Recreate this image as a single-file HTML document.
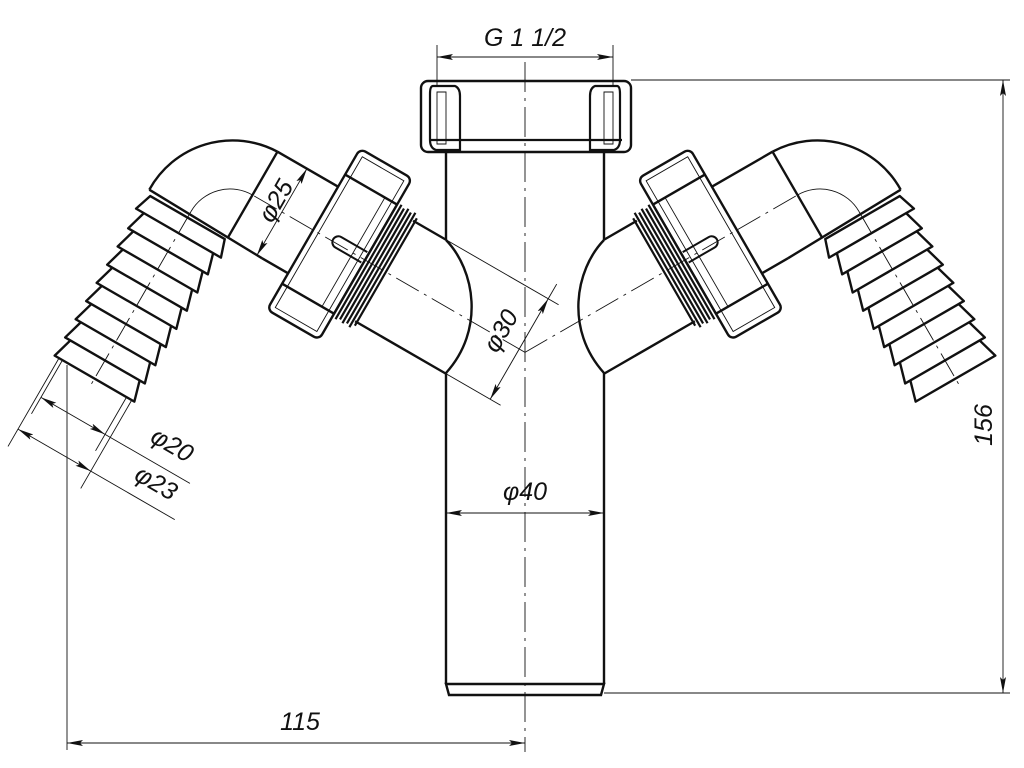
<!DOCTYPE html>
<html><head><meta charset="utf-8"><style>
html,body{margin:0;padding:0;background:#fff;}
svg{display:block;}
text{font-family:"Liberation Sans",sans-serif;font-style:italic;font-size:25px;fill:#111;}
</style></head><body>
<svg width="1024" height="768" viewBox="0 0 1024 768" xmlns="http://www.w3.org/2000/svg">
<defs>
<marker id="ar" viewBox="0 0 16 6" refX="16" refY="3" markerWidth="16" markerHeight="6" markerUnits="userSpaceOnUse" orient="auto-start-reverse"><path d="M0,0 L16,3 L0,6 L3,3 Z" fill="#111"/></marker>
<g id="branch" fill="none" stroke="#111">
  <!-- tube phi30 -->
  <line x1="30" y1="58" x2="68" y2="58" stroke-width="2.4"/>
  <line x1="-37" y1="-58" x2="68" y2="-58" stroke-width="2.4"/>
  <line x1="-95" y1="0" x2="220" y2="0" stroke-width="0.9" stroke-dasharray="26,6,3,6"/>
  <!-- thread -->
  <path d="M66,-62 L66,62 M70,-66 L70,66 M74,-64 L74,64 M78,-66 L78,66 M82,-64 L82,64 M86,-66 L86,66 M90,-62 L90,62" stroke-width="2.2"/>
  <!-- nut -->
  <rect x="90" y="-92" width="60" height="186" rx="6" stroke-width="2.4"/>
  <line x1="90" y1="64" x2="150" y2="64" stroke-width="2.4"/>
  <line x1="90" y1="-62" x2="150" y2="-62" stroke-width="2.4"/>
  <rect x="96" y="-86" width="48" height="174" stroke-width="0.9"/>
  <line x1="104" y1="-62" x2="104" y2="64" stroke-width="0.9"/>
  <path d="M92,-4 L122,-4 A6,6 0 0 1 122,8 L92,8" stroke-width="2"/>
  <!-- tube phi25 -->
  <line x1="150" y1="50" x2="220" y2="50" stroke-width="2.4"/>
  <line x1="150" y1="-50" x2="180" y2="-50" stroke-width="2.4"/>
  <line x1="220" y1="50" x2="220" y2="-50" stroke-width="2.4"/>
  <!-- elbow -->
  <path d="M220,50 A95,95 0 0 0 312,-47" stroke-width="2.4"/>
  <path d="M220,0 A45,45 0 0 0 265,-45" stroke-width="0.9"/>
  <line x1="265" y1="-45" x2="265" y2="-250" stroke-width="0.9" stroke-dasharray="26,6,3,6"/>
  <!-- barb -->
  <line x1="180" y1="-50" x2="312" y2="-47" stroke-width="2.4"/>
  <path d="M222,-52 L216,-70 L314,-70 L308,-52 Z M225,-70 L219,-91 L311,-91 L305,-70 M225,-91 L219,-112 L311,-112 L305,-91 M225,-112 L219,-133 L311,-133 L305,-112 M225,-133 L219,-154 L311,-154 L305,-133 M225,-154 L219,-175 L311,-175 L305,-154 M225,-175 L219,-196 L311,-196 L305,-175 M225,-196 L219,-217 L311,-217 L305,-196 M225,-217 L219,-238 L311,-238 L305,-217" stroke-width="2.4" stroke-linejoin="round"/>
</g>
</defs>

<!-- center line -->
<line x1="525" y1="62" x2="525" y2="752" stroke="#111" stroke-width="0.9" stroke-dasharray="30,6,3,6"/>

<!-- top nut -->
<g fill="none" stroke="#111">
<rect x="421" y="81" width="210" height="71" rx="7" stroke-width="2.4"/>
<line x1="430" y1="140" x2="622" y2="140" stroke-width="2.2"/>
<path d="M433,86 L455,86 Q460,88 460,96 L460,150 L436,150 Q430,148 430,140 L430,94 Q430,86 433,86 Z" stroke-width="2.2"/>
<path d="M437,92 L446,92 L446,144 L437,144 Z" stroke-width="0.9"/>
<path d="M617,86 L595,86 Q590,88 590,96 L590,150 L614,150 Q620,148 620,140 L620,94 Q620,86 617,86 Z" stroke-width="2.2"/>
<path d="M613,92 L604,92 L604,144 L613,144 Z" stroke-width="0.9"/>
<!-- main pipe -->
<line x1="446" y1="152" x2="446" y2="240" stroke-width="2.4"/>
<line x1="446" y1="372" x2="446" y2="684" stroke-width="2.4"/>
<line x1="604" y1="152" x2="604" y2="240" stroke-width="2.4"/>
<line x1="604" y1="372" x2="604" y2="684" stroke-width="2.4"/>
<path d="M446,684 L604,684 L601,695 L449,695 Z" stroke-width="2.4"/>
<path d="M446,240 C475,270 485,330 446,373" stroke-width="2.4"/>
<path d="M604,240 C575,270 565,330 604,373" stroke-width="2.4"/>
</g>

<!-- branches -->
<g transform="translate(443,305) rotate(210)"><use href="#branch"/></g>
<g transform="translate(1050,0) scale(-1,1)"><g transform="translate(443,305) rotate(210)"><use href="#branch"/></g></g>

<!-- dimension lines (thin) -->
<g fill="none" stroke="#111" stroke-width="0.9">
<line x1="437" y1="45" x2="437" y2="86"/>
<line x1="613" y1="45" x2="613" y2="86"/>
<line x1="437" y1="57" x2="613" y2="57" marker-start="url(#ar)" marker-end="url(#ar)"/>
<line x1="631" y1="80" x2="1010" y2="80"/>
<line x1="604" y1="693" x2="1010" y2="693"/>
<line x1="1003" y1="80" x2="1003" y2="693" marker-start="url(#ar)" marker-end="url(#ar)"/>
<line x1="446" y1="513" x2="604" y2="513" marker-start="url(#ar)" marker-end="url(#ar)"/>
<line x1="67" y1="365" x2="67" y2="750"/>
<line x1="67" y1="743" x2="525" y2="743" marker-start="url(#ar)" marker-end="url(#ar)"/>
</g>
<g transform="translate(443,305) rotate(210)" fill="none" stroke="#111" stroke-width="0.9">
  <line x1="30" y1="58" x2="-100" y2="58"/>
  <line x1="-37" y1="-58" x2="-100" y2="-58"/>
  <line x1="-88" y1="-58" x2="-88" y2="58" marker-start="url(#ar)" marker-end="url(#ar)"/>
  <line x1="-88" y1="58" x2="-88" y2="75"/>
  <line x1="186" y1="-50" x2="186" y2="50" marker-start="url(#ar)" marker-end="url(#ar)"/>
  <line x1="228" y1="-238" x2="228" y2="-300"/>
  <line x1="302" y1="-238" x2="302" y2="-300"/>
  <line x1="222" y1="-238" x2="222" y2="-340"/>
  <line x1="306" y1="-238" x2="306" y2="-340"/>
  <line x1="302" y1="-281" x2="228" y2="-281" marker-start="url(#ar)" marker-end="url(#ar)"/>
  <line x1="228" y1="-281" x2="130" y2="-281"/>
  <line x1="306" y1="-320" x2="222" y2="-320" marker-start="url(#ar)" marker-end="url(#ar)"/>
  <line x1="222" y1="-320" x2="125" y2="-320"/>
</g>

<!-- texts -->
<text x="525" y="46" text-anchor="middle">G 1 1/2</text>
<text x="525" y="500" text-anchor="middle">φ40</text>
<text x="300" y="730" text-anchor="middle">115</text>
<text transform="translate(992,425) rotate(-90)" text-anchor="middle">156</text>
<text transform="translate(283,205) rotate(-60)" text-anchor="middle">φ25</text>
<text transform="translate(508,335) rotate(-60)" text-anchor="middle">φ30</text>
<text transform="translate(168,452) rotate(30)" text-anchor="middle">φ20</text>
<text transform="translate(152,490) rotate(30)" text-anchor="middle">φ23</text>
</svg>
</body></html>
